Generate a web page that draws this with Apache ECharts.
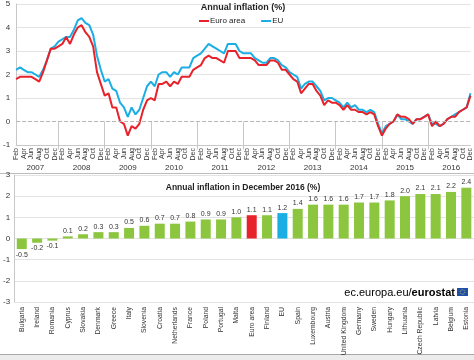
<!DOCTYPE html>
<html>
<head>
<meta charset="utf-8">
<script src="https://cdn.jsdelivr.net/npm/echarts@6/dist/echarts.min.js"></script>
<style>
html,body{margin:0;padding:0;background:#fff;}
#chart{width:474px;height:360px;}
</style>
</head>
<body>
<div id="chart"></div>
<script>
// ---- Data ----
const monthNames = ['Jan','Feb','Mar','Apr','May','Jun','Jul','Aug','Sep','Oct','Nov','Dec'];
const years = [2007,2008,2009,2010,2011,2012,2013,2014,2015,2016];
// monthly series from Feb 2007 to Dec 2016
const euroArea = [
  1.8,1.9,1.9,1.9,1.9,1.8,1.7,2.1,2.6,3.1,3.1,
  3.2,3.3,3.6,3.3,3.7,4.0,4.1,3.8,3.6,3.2,2.1,1.6,
  1.1,1.2,0.6,0.6,0.0,-0.1,-0.6,-0.2,-0.3,-0.1,0.5,0.9,
  1.0,0.9,1.6,1.6,1.7,1.5,1.7,1.6,1.9,1.9,1.9,2.2,
  2.3,2.4,2.7,2.8,2.7,2.7,2.6,2.5,3.0,3.0,3.0,2.7,
  2.7,2.7,2.7,2.6,2.4,2.4,2.4,2.6,2.6,2.5,2.2,2.2,
  2.0,1.8,1.7,1.2,1.4,1.6,1.6,1.3,1.1,0.7,0.9,0.8,
  0.8,0.7,0.5,0.7,0.5,0.5,0.4,0.4,0.3,0.4,0.3,-0.2,
  -0.6,-0.3,-0.1,0.0,0.3,0.2,0.2,0.1,-0.1,0.1,0.1,0.2,
  0.3,-0.2,0.0,-0.2,-0.1,0.1,0.2,0.2,0.4,0.5,0.6,1.1
];
const eu = [
  2.2,2.3,2.2,2.1,2.1,2.0,1.9,2.2,2.6,3.1,3.2,
  3.4,3.5,3.6,3.6,3.9,4.3,4.4,4.2,4.1,3.7,2.8,2.2,
  1.7,1.8,1.4,1.3,0.8,0.6,0.2,0.6,0.3,0.5,1.0,1.5,
  1.7,1.5,2.0,2.1,2.1,1.9,2.1,2.0,2.3,2.3,2.3,2.7,
  2.8,2.9,3.1,3.3,3.2,3.1,3.0,2.9,3.3,3.3,3.3,3.0,
  2.9,2.9,2.9,2.7,2.6,2.5,2.5,2.7,2.7,2.6,2.4,2.3,
  2.1,2.0,1.9,1.4,1.6,1.7,1.7,1.5,1.3,0.9,1.0,1.0,
  0.9,0.8,0.6,0.8,0.6,0.7,0.5,0.5,0.4,0.5,0.4,-0.1,
  -0.5,-0.2,-0.1,0.0,0.3,0.1,0.1,0.0,-0.1,0.1,0.1,0.2,
  0.3,-0.1,-0.1,-0.2,-0.1,0.1,0.2,0.3,0.4,0.5,0.6,1.2
];
const countries = ['Bulgaria','Ireland','Romania','Cyprus','Slovakia','Denmark','Greece','Italy','Slovenia','Croatia',
  'Netherlands','France','Poland','Portugal','Malta','Euro area','Finland','EU','Spain','Luxembourg',
  'Austria','United Kingdom','Germany','Sweden','Hungary','Lithuania','Czech Republic','Latvia','Belgium','Estonia'];
const dec2016 = [-0.5,-0.2,-0.1,0.1,0.2,0.3,0.3,0.5,0.6,0.7,
  0.7,0.8,0.9,0.9,1.0,1.1,1.1,1.2,1.4,1.6,
  1.6,1.6,1.7,1.7,1.8,2.0,2.1,2.1,2.2,2.4];
const topTicks = {min:-1, max:5, step:1};
const bottomTicks = {min:-3, max:3, step:1};

// ---- Build ----
const months = [];
years.forEach(y => monthNames.forEach((m, i) => {
  if (y === 2007 && i === 0) return;
  months.push(m + ' ' + y);
}));

const FONT = "'Liberation Sans', Arial, sans-serif";
const RED = '#e8222a', BLUE = '#1aaee5', GREEN = '#8cc63f';
const GRIDC = '#e3e3e3', AXISC = '#c8c8c8';

const chart = echarts.init(document.getElementById('chart'), null, {renderer:'canvas'});
const barData = dec2016.map(v => ({value: v, label: {position: v < 0 ? 'bottom' : 'top'}}));

chart.setOption({
  animation: false,
  textStyle: {fontFamily: FONT},
  title: [
    {text: 'Annual inflation (%)', left: 243, top: 3, textAlign: 'center', padding: 0,
     textStyle: {fontSize: 9, fontWeight: 'bold', color: '#222', fontFamily: FONT}},
    {text: 'Annual inflation in December 2016 (%)', left: 243, top: 183, textAlign: 'center', padding: 0,
     textStyle: {fontSize: 8.5, fontWeight: 'bold', color: '#222', fontFamily: FONT}}
  ],
  legend: {
    data: ['Euro area', 'EU'], left: 199, top: 17, padding: 0, itemWidth: 10, itemHeight: 2, itemGap: 16,
    icon: 'rect', textStyle: {fontSize: 8, color: '#222', fontFamily: FONT, padding: [0,0,0,-4]}
  },
  grid: [
    {left: 12, right: 2, top: 1, height: 144},
    {left: 10, right: 0, top: 175, height: 127}
  ],
  xAxis: [
    {type: 'category', gridIndex: 0, data: months, boundaryGap: false,
     axisLine: {onZero: false, lineStyle: {color: AXISC}},
     axisTick: {show: false},
     axisLabel: {interval: 1, rotate: 90, fontSize: 7, color: '#333', margin: 3,
       formatter: v => v.split(' ')[0]}},
    {type: 'category', gridIndex: 0, data: months, boundaryGap: false, position: 'bottom',
     axisLine: {show: false},
     axisTick: {show: true, length: 28, lineStyle: {color: AXISC},
       interval: (i, v) => v.indexOf('Jan') === 0},
     axisLabel: {fontSize: 8, color: '#333', margin: 19,
       interval: (i, v) => v.indexOf('Jul') === 0,
       formatter: v => v.split(' ')[1]}},
    {type: 'category', gridIndex: 1, data: countries,
     axisLine: {onZero: false, lineStyle: {color: GRIDC}},
     axisTick: {show: false},
     axisLabel: {interval: 0, rotate: 90, fontSize: 6.8, color: '#333', margin: 5}}
  ],
  yAxis: [
    {type: 'value', gridIndex: 0, min: topTicks.min, max: topTicks.max, interval: topTicks.step,
     axisLine: {show: true, lineStyle: {color: AXISC}},
     axisLabel: {fontSize: 8, color: '#333', margin: 6},
     splitLine: {lineStyle: {color: [GRIDC, 'rgba(0,0,0,0)', GRIDC, GRIDC, GRIDC, GRIDC, GRIDC]}}},
    {type: 'value', gridIndex: 1, min: bottomTicks.min, max: bottomTicks.max, interval: bottomTicks.step,
     axisLine: {show: true, lineStyle: {color: AXISC}},
     axisLabel: {fontSize: 8, color: '#333', margin: 4},
     splitLine: {lineStyle: {color: GRIDC}}}
  ],
  series: [
    {name: 'Euro area', type: 'line', xAxisIndex: 0, yAxisIndex: 0, data: euroArea,
     symbol: 'none', lineStyle: {color: RED, width: 2}, itemStyle: {color: RED}, z: 3,
     markLine: {silent: true, symbol: 'none', label: {show: false},
       lineStyle: {color: '#b5b5b5', type: 'dashed', width: 1}, data: [{yAxis: 0}]}},
    {name: 'EU', type: 'line', xAxisIndex: 0, yAxisIndex: 0, data: eu,
     symbol: 'none', lineStyle: {color: BLUE, width: 2}, itemStyle: {color: BLUE}, z: 2},
    {name: 'Dec 2016', type: 'bar', xAxisIndex: 2, yAxisIndex: 1, data: barData,
     barWidth: 10,
     itemStyle: {color: p => p.name === 'Euro area' ? RED : (p.name === 'EU' ? BLUE : GREEN)},
     label: {show: true, fontSize: 7, color: '#333', distance: 2,
       formatter: p => p.value.toFixed(1)}}
  ],
  graphic: [
    {type: 'line', shape: {x1: 0, y1: 173.5, x2: 474, y2: 173.5}, style: {stroke: '#bdbdbd', lineWidth: 1}},
    {type: 'line', shape: {x1: 0, y1: 354.5, x2: 474, y2: 354.5}, style: {stroke: '#a8a8a8', lineWidth: 1}},
    {type: 'rect', shape: {x: 0, y: 355, width: 474, height: 5}, style: {fill: '#ececec'}},
    {type: 'text', right: 19, top: 287,
     style: {text: '{a|ec.europa.eu/}{b|eurostat}', font: '11px ' + FONT,
       rich: {a: {fontSize: 11, color: '#7a7a7a', fontFamily: FONT},
              b: {fontSize: 11, color: '#4a4a4a', fontWeight: 'bold', fontFamily: FONT}}}},
    {type: 'rect', shape: {x: 457, y: 288, width: 11, height: 8}, style: {fill: '#1f4fa8'}},
    {type: 'circle', shape: {cx: 462.5, cy: 292, r: 2.3}, style: {fill: 'none', stroke: '#e8d23a', lineWidth: 0.8, lineDash: [0.8, 0.8]}}
  ]
});
</script>
</body>
</html>
